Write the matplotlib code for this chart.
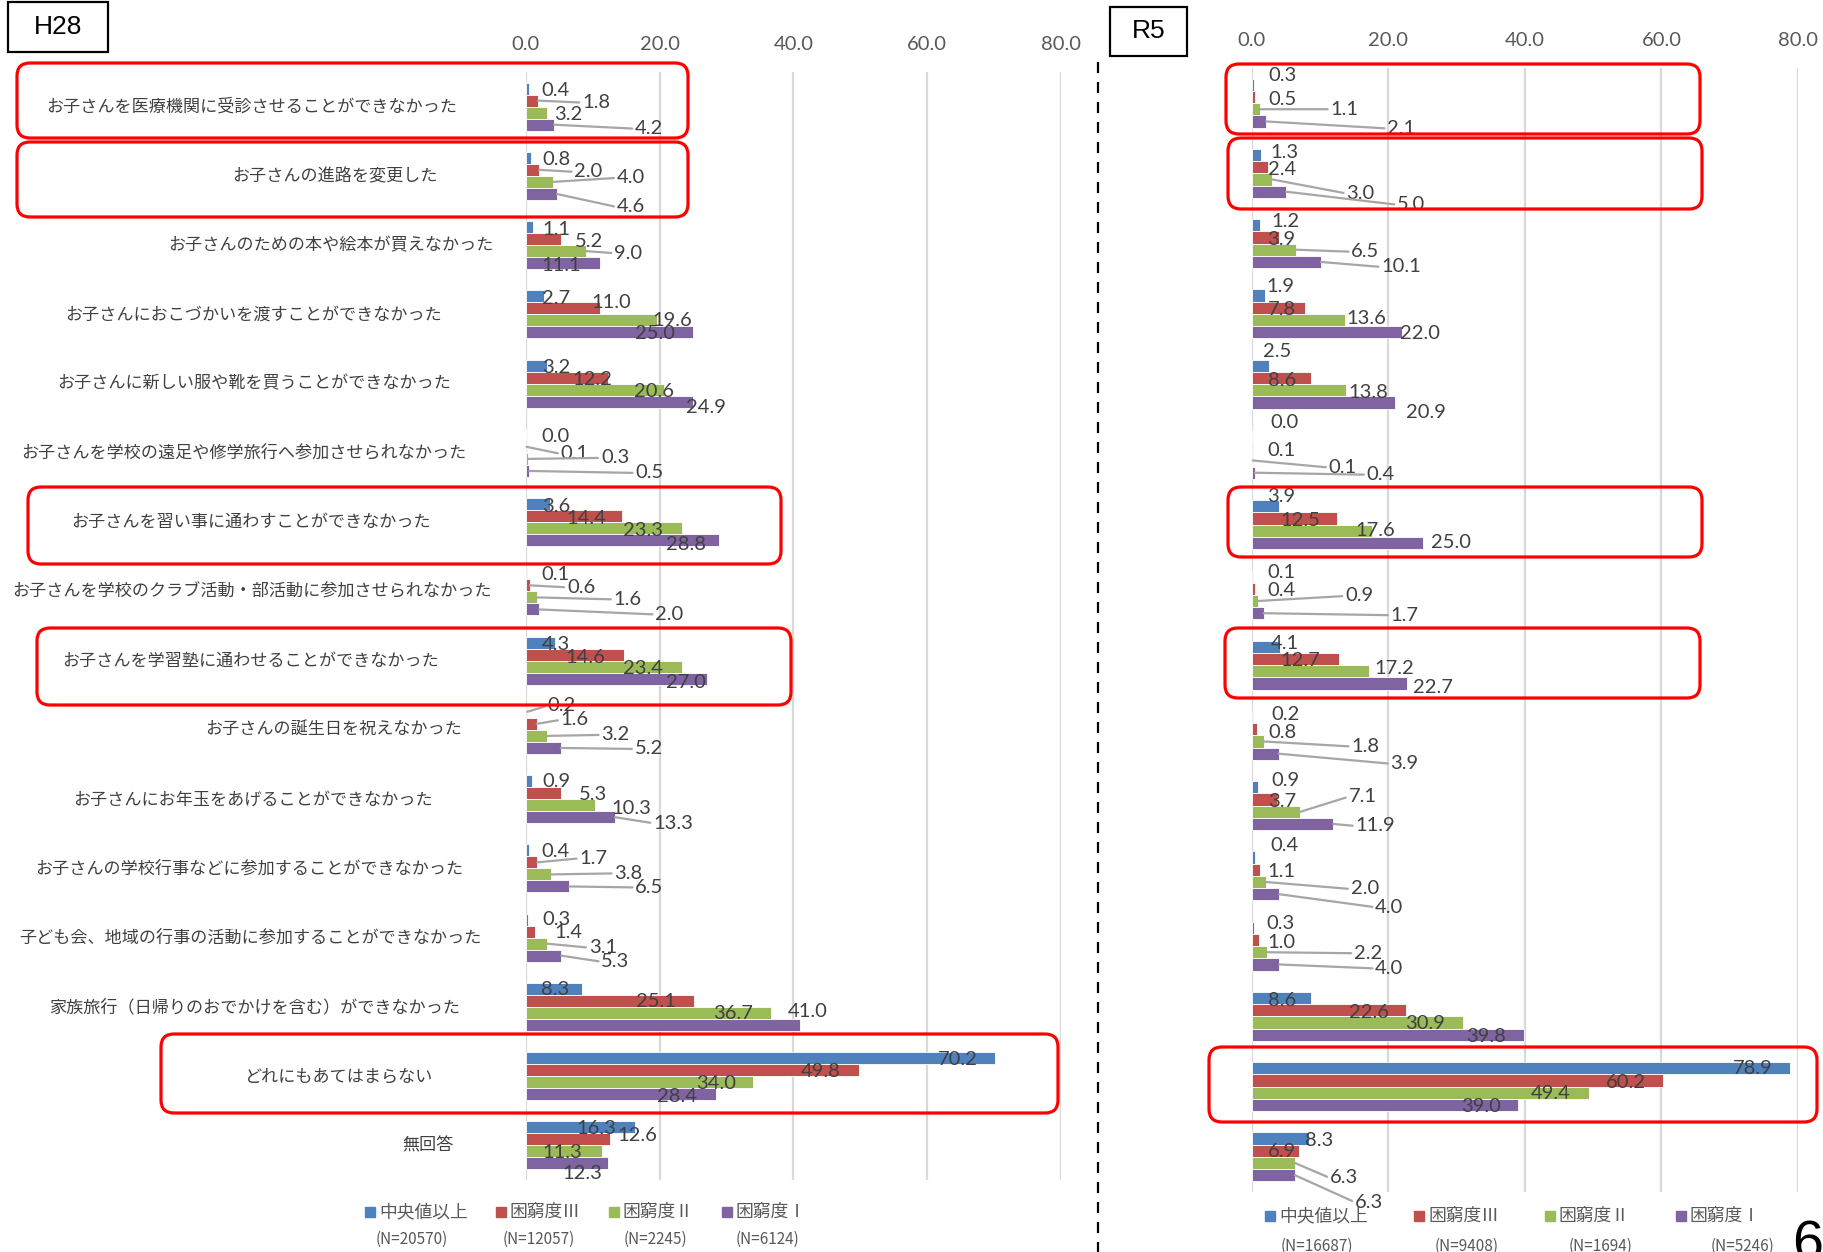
import numpy as np
import matplotlib
matplotlib.use("Agg")
import matplotlib.pyplot as plt
from matplotlib.patches import FancyBboxPatch, Rectangle
from matplotlib.transforms import IdentityTransform, blended_transform_factory

JP = ["Noto Sans CJK JP", "DejaVu Sans"]
NUM = ["Lato", "DejaVu Sans"]

categories = [
    "お子さんを医療機関に受診させることができなかった",
    "お子さんの進路を変更した",
    "お子さんのための本や絵本が買えなかった",
    "お子さんにおこづかいを渡すことができなかった",
    "お子さんに新しい服や靴を買うことができなかった",
    "お子さんを学校の遠足や修学旅行へ参加させられなかった",
    "お子さんを習い事に通わすことができなかった",
    "お子さんを学校のクラブ活動・部活動に参加させられなかった",
    "お子さんを学習塾に通わせることができなかった",
    "お子さんの誕生日を祝えなかった",
    "お子さんにお年玉をあげることができなかった",
    "お子さんの学校行事などに参加することができなかった",
    "子ども会、地域の行事の活動に参加することができなかった",
    "家族旅行（日帰りのおでかけを含む）ができなかった",
    "どれにもあてはまらない",
    "無回答",
]

series = ["中央値以上", "困窮度Ⅲ", "困窮度Ⅱ", "困窮度Ⅰ"]
colors = ["#4F81BD", "#C0504D", "#9BBB59", "#8064A2"]
n_h28 = ["(N=20570)", "(N=12057)", "(N=2245)", "(N=6124)"]
n_r5 = ["(N=16687)", "(N=9408)", "(N=1694)", "(N=5246)"]

# H28 (%)
h28_median = [0.4, 0.8, 1.1, 2.7, 3.2, 0.0, 3.6, 0.1, 4.3, 0.2, 0.9, 0.4, 0.3, 8.3, 70.2, 16.3]
h28_pov3 = [1.8, 2.0, 5.2, 11.0, 12.2, 0.1, 14.4, 0.6, 14.6, 1.6, 5.3, 1.7, 1.4, 25.1, 49.8, 12.6]
h28_pov2 = [3.2, 4.0, 9.0, 19.6, 20.6, 0.3, 23.3, 1.6, 23.4, 3.2, 10.3, 3.8, 3.1, 36.7, 34.0, 11.3]
h28_pov1 = [4.2, 4.6, 11.1, 25.0, 24.9, 0.5, 28.8, 2.0, 27.0, 5.2, 13.3, 6.5, 5.3, 41.0, 28.4, 12.3]

# R5 (%)
r5_median = [0.3, 1.3, 1.2, 1.9, 2.5, 0.0, 3.9, 0.1, 4.1, 0.2, 0.9, 0.4, 0.3, 8.6, 78.9, 8.3]
r5_pov3 = [0.5, 2.4, 3.9, 7.8, 8.6, 0.1, 12.5, 0.4, 12.7, 0.8, 3.7, 1.1, 1.0, 22.6, 60.2, 6.9]
r5_pov2 = [1.1, 3.0, 6.5, 13.6, 13.8, 0.1, 17.6, 0.9, 17.2, 1.8, 7.1, 2.0, 2.2, 30.9, 49.4, 6.3]
r5_pov1 = [2.1, 5.0, 10.1, 22.0, 20.9, 0.4, 25.0, 1.7, 22.7, 3.9, 11.9, 4.0, 4.0, 39.8, 39.0, 6.3]

# data label placement: (dx px, dy px downwards, leader line) from each bar end
h28_lbl = [
    [(27, 2, 0), (58, 2, 1), (21, 2, 0), (95, 4, 1)],
    [(25, 2, 0), (49, 2, 1), (78, -4, 1), (74, 13, 1)],
    [(23, 2, 0), (28, 2, 0), (42, 2, 1), (-39, 2, 0)],
    [(12, 2, 0), (12, -6, 0), (15, 0, 0), (-38, 1, 0)],
    [(9, 2, 0), (-15, 2, 0), (-10, 2, 0), (13, 6, 0)],
    [(30, 2, 0), (48, 7, 1), (87, -1, 1), (120, 2, 1)],
    [(6, 2, 0), (-36, 2, 0), (-39, 2, 0), (-33, 4, 0)],
    [(29, 1, 0), (51, 2, 1), (91, 2, 1), (130, 5, 1)],
    [(1, 2, 0), (-38, 3, 0), (-39, 2, 0), (-21, 4, 0)],
    [(34, -6, 1), (38, -4, 1), (68, -1, 1), (88, 1, 1)],
    [(24, 0, 0), (32, 1, 0), (36, 3, 0), (58, 6, 1)],
    [(27, 1, 0), (56, -4, 1), (77, -1, 1), (80, 1, 1)],
    [(28, 0, 0), (33, 1, 0), (56, 4, 1), (54, 6, 1)],
    [(-26, 1, 0), (-38, 1, 0), (-38, 1, 0), (8, -13, 0)],
    [(-38, 1, 0), (-38, 1, 0), (-37, 1, 0), (-39, 2, 0)],
    [(-39, 1, 0), (27, -4, 0), (-39, 1, 0), (-26, 10, 0)],
]
r5_lbl = [
    [(28, -9, 0), (27, 2, 0), (85, 0, 1), (135, 7, 1)],
    [(24, -3, 0), (14, 2, 0), (88, 14, 1), (125, 13, 1)],
    [(25, -4, 0), (3, 2, 0), (69, 2, 1), (80, 5, 1)],
    [(15, -9, 0), (-23, 2, 0), (21, -1, 0), (18, 1, 0)],
    [(8, -14, 0), (-29, 2, 0), (22, 2, 0), (31, 10, 0)],
    [(33, -14, 0), (29, 2, 0), (90, 7, 1), (126, 2, 1)],
    [(3, -10, 0), (-37, 2, 0), (3, 0, 0), (28, 0, 0)],
    [(29, -4, 0), (27, 2, 0), (101, -5, 1), (141, 2, 1)],
    [(5, -3, 0), (-38, 1, 0), (25, -3, 0), (26, 4, 0)],
    [(32, -3, 0), (25, 3, 0), (101, 5, 1), (126, 10, 1)],
    [(27, -7, 0), (5, 2, 0), (62, -15, 1), (42, 2, 1)],
    [(30, -12, 0), (22, 2, 0), (99, 7, 1), (110, 13, 1)],
    [(26, -4, 0), (23, 2, 0), (101, 1, 1), (110, 4, 1)],
    [(-29, 2, 0), (-37, 2, 0), (-38, 1, 0), (-38, 2, 0)],
    [(-38, 0, 0), (-37, 2, 0), (-38, 1, 0), (-37, 2, 0)],
    [(10, 2, 0), (-17, 1, 0), (49, 15, 1), (74, 27, 1)],
]

# centre x (px) of each category label on the left side
cat_label_x = [252, 335, 331, 254, 254, 244, 251, 252, 251, 334, 253, 249, 250, 255, 338, 428]

W, H = 1824, 1252
BAR_H = 0.174


def px_rect(x0, y0, x1, y1):
    return [x0 / W, 1 - y1 / H, (x1 - x0) / W, (y1 - y0) / H]


def draw_panel(ax, data, lbl):
    n = len(categories)
    y = np.arange(n)
    for j, vals in enumerate(data):
        ax.barh(y + (j - 1.5) * BAR_H, vals, height=BAR_H, color=colors[j],
                edgecolor="#FFFFFF", linewidth=0.6, zorder=2)
    ax.set_xlim(0, 80)
    ax.set_ylim(n - 0.5, -0.5)
    ticks = [0, 20, 40, 60, 80]
    ax.set_xticks(ticks)
    ax.set_xticklabels([f"{t:.1f}" for t in ticks], family=NUM, fontsize=14.5, color="#595959")
    ax.xaxis.tick_top()
    ax.tick_params(axis="x", length=0, pad=14)
    ax.set_yticks([])
    for s in ax.spines.values():
        s.set_visible(False)
    ax.grid(axis="x", color="#D9D9D9", lw=1.6, zorder=0)
    ax.set_axisbelow(True)

    for i in range(n):
        for j in range(4):
            v = data[j][i]
            dx, dy, lead = lbl[i][j]
            kw = {}
            if lead:
                kw["arrowprops"] = dict(arrowstyle="-", color="#A6A6A6", lw=1.6,
                                        shrinkA=0, shrinkB=0, relpos=(0, 0.5))
            ax.annotate(f"{v:.1f}", xy=(v, i + (j - 1.5) * BAR_H), xytext=(dx, -dy),
                        textcoords="offset pixels", ha="center", va="center",
                        fontsize=14.5, family=NUM, color="#404040",
                        annotation_clip=False, zorder=4, **kw)


def red_box(fig, x0, y0, x1, y1):
    fig.add_artist(FancyBboxPatch((x0, H - y1), x1 - x0, y1 - y0,
                                  boxstyle="round,pad=0,rounding_size=13",
                                  transform=IdentityTransform(), fill=False,
                                  edgecolor="#FF0000", lw=2.3, zorder=10))


def legend(fig, sq_x, sq_y, n_x, n_y, n_labels):
    for j in range(4):
        fig.add_artist(Rectangle((sq_x[j] - 5, H - sq_y - 5), 10, 10,
                                 transform=IdentityTransform(), color=colors[j]))
        fig.text((sq_x[j] + 9) / W, 1 - sq_y / H, series[j], family=JP, fontsize=12.8,
                 color="#595959", ha="left", va="center")
        fig.text(n_x[j] / W, 1 - n_y / H, n_labels[j], family=JP, fontsize=11,
                 color="#595959", ha="center", va="center")


def main():
    fig = plt.figure(figsize=(W / 100, H / 100), dpi=100)

    ax_l = fig.add_axes(px_rect(526, 72, 1061, 1180))
    ax_r = fig.add_axes(px_rect(1252, 68, 1798, 1192))

    draw_panel(ax_l, [h28_median, h28_pov3, h28_pov2, h28_pov1], h28_lbl)
    draw_panel(ax_r, [r5_median, r5_pov3, r5_pov2, r5_pov1], r5_lbl)

    # category names to the left of the H28 bars
    trans = blended_transform_factory(fig.transFigure, ax_l.transData)
    for i, name in enumerate(categories):
        ax_l.text(cat_label_x[i] / W, i, name, transform=trans, ha="center", va="center",
                  family=JP, fontsize=12.3, color="#404040", clip_on=False)

    # highlighted items
    for box in [(17, 63, 688, 138), (17, 142, 688, 217), (28, 487, 781, 564),
                (37, 628, 791, 705), (161, 1034, 1058, 1113)]:
        red_box(fig, *box)
    for box in [(1226, 64, 1700, 134), (1228, 138, 1702, 209), (1228, 487, 1702, 557),
                (1225, 628, 1700, 698), (1209, 1047, 1817, 1122)]:
        red_box(fig, *box)

    # year tags
    for x0, y0, x1, y1, txt in [(8, 2, 108, 52, "H28"), (1110, 7, 1187, 56, "R5")]:
        fig.add_artist(Rectangle((x0, H - y1), x1 - x0, y1 - y0, transform=IdentityTransform(),
                                 fill=False, edgecolor="#000000", lw=1.6))
        fig.text((x0 + x1) / 2 / W, 1 - (y0 + y1) / 2 / H, txt, family=["Liberation Sans"],
                 fontsize=19, ha="center", va="center", color="#000000")

    # divider between the two surveys
    fig.add_artist(plt.Line2D([1098 / W, 1098 / W], [1 - 62 / H, 0], transform=fig.transFigure,
                              color="#000000", lw=1.6, linestyle=(0, (5, 4))))

    legend(fig, [370, 501, 614, 727], 1212, [412, 539, 655, 768], 1239, n_h28)
    legend(fig, [1270, 1419, 1550, 1681], 1216, [1317, 1467, 1601, 1743], 1246, n_r5)

    fig.text(1808 / W, 1 - 1220 / H, "6", family=["Liberation Sans"], fontsize=40,
             ha="center", va="top", color="#000000")

    fig.savefig("out.png", dpi=100)


if __name__ == "__main__":
    main()
